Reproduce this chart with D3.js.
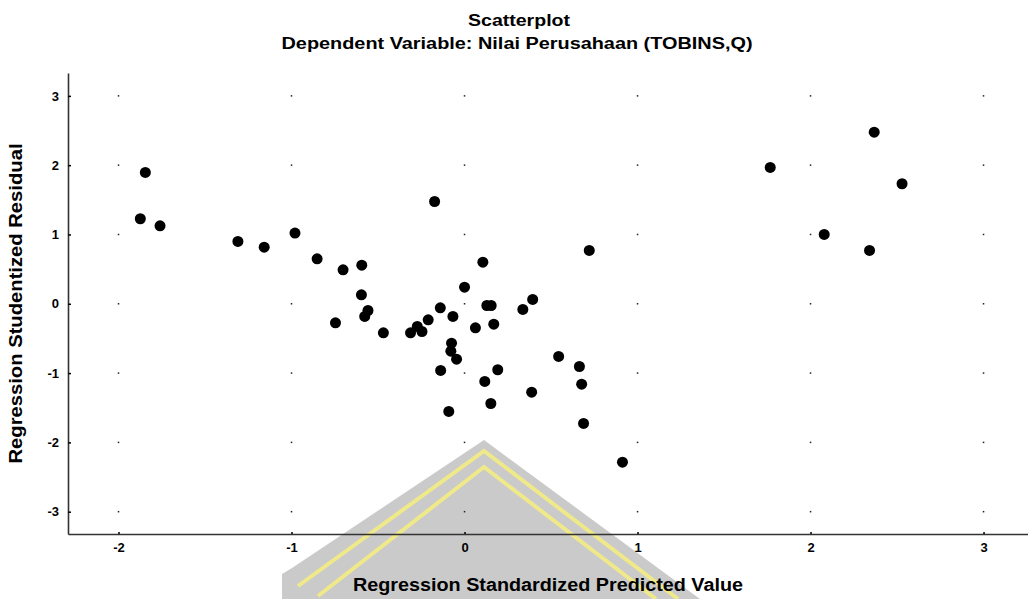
<!DOCTYPE html>
<html>
<head>
<meta charset="utf-8">
<script src="https://cdn.jsdelivr.net/npm/d3@7"></script>
<style>
  body{margin:0;background:#fff;}
  text{font-family:"Liberation Sans",Arial,sans-serif;font-weight:bold;fill:#000;}
</style>
</head>
<body>
<div id="chart"></div>
<script>
// standardized predicted value (x) and studentized residual (y)
var predicted = [-1.874,-1.845,-1.760,-1.310,-1.158,-0.980,-0.852,-0.746,-0.702,-0.596,
  -0.594,-0.577,-0.558,-0.469,-0.312,-0.273,-0.246,-0.210,-0.173,-0.140,
  -0.138,-0.091,-0.079,-0.075,-0.067,-0.046,0.000,0.063,0.106,0.117,
  0.129,0.152,0.154,0.169,0.192,0.337,0.388,0.394,0.544,0.664,
  0.677,0.688,0.721,0.913,1.767,2.079,2.341,2.368,2.529];
var residual = [1.227,1.895,1.125,0.899,0.817,1.020,0.649,-0.275,0.490,0.130,
  0.557,-0.183,-0.097,-0.419,-0.419,-0.328,-0.400,-0.231,1.476,-0.058,
  -0.962,-1.554,-0.684,-0.568,-0.183,-0.800,0.240,-0.347,0.600,-1.121,
  -0.025,-1.439,-0.025,-0.294,-0.952,-0.082,-1.275,0.062,-0.760,-0.905,
  -1.160,-1.727,0.769,-2.285,1.967,1.000,0.769,2.476,1.732];
var xTicks = [-2,-1,0,1,2,3];
var yTicks = [-3,-2,-1,0,1,2,3];

var title = "Scatterplot";
var subtitle = "Dependent Variable: Nilai Perusahaan (TOBINS,Q)";
var xTitle = "Regression Standardized Predicted Value";
var yTitle = "Regression Studentized Residual";

drawscatter();

function drawscatter(){
  var width=1028;
  var height=599;
  var left=68, right=1028, top=73, bottom=534;

  var svg = d3.select("#chart")
      .append("svg")
      .attr("width",width)
      .attr("height",height);

  var xScale = d3.scaleLinear()
      .domain([-2.292,3.257])
      .range([left,right]);

  var yScale = d3.scaleLinear()
      .domain([-3.322,3.330])
      .range([bottom,top]);

  // faint watermark at the bottom, behind everything
  var wm = svg.append("g");
  wm.append("path")
      .attr("d","M484,440 L700,599 L282,599 L282,574 L292,568 Z")
      .attr("fill","#cacaca");
  wm.append("path")
      .attr("d","M298,586 L484,451 L678,599")
      .attr("fill","none")
      .attr("stroke","#efe98a")
      .attr("stroke-width",4);
  wm.append("path")
      .attr("d","M318,596 L484,467 L656,599")
      .attr("fill","none")
      .attr("stroke","#efe98a")
      .attr("stroke-width",4);

  // dotted grid: one small dot at each tick crossing
  var grid = [];
  for(var i=0;i<xTicks.length;i++){
    for(var j=0;j<yTicks.length;j++){
      grid.push([xTicks[i],yTicks[j]]);
    }
  }
  svg.append("g")
      .selectAll("rect")
      .data(grid)
      .enter()
      .append("rect")
      .attr("x",function(d){return xScale(d[0])-0.75;})
      .attr("y",function(d){return yScale(d[1])-0.75;})
      .attr("width",1.5)
      .attr("height",1.5)
      .attr("fill","#222");

  var fmt = function(d){return String(d);};

  var xAxis = d3.axisBottom(xScale)
      .tickValues(xTicks)
      .tickSize(-2)
      .tickSizeOuter(0)
      .tickPadding(9)
      .tickFormat(fmt);

  var yAxis = d3.axisLeft(yScale)
      .tickValues(yTicks)
      .tickSize(-3)
      .tickSizeOuter(0)
      .tickPadding(9)
      .tickFormat(fmt);

  var gx = svg.append("g")
      .attr("transform","translate(0,"+bottom+")")
      .call(xAxis);
  var gy = svg.append("g")
      .attr("transform","translate("+left+",0)")
      .call(yAxis);

  [gx,gy].forEach(function(g){
    g.select(".domain").attr("stroke","#333").attr("stroke-width",1.6);
    g.selectAll(".tick line").attr("stroke","#000").attr("stroke-width",1.5);
    g.selectAll(".tick text")
      .attr("font-family","'Liberation Sans',Arial,sans-serif")
      .attr("font-weight","bold")
      .attr("font-size",13)
      .attr("fill","#000");
  });

  svg.append("g")
      .selectAll("circle")
      .data(predicted)
      .enter()
      .append("circle")
      .attr("cx",function(d){return xScale(d);})
      .attr("cy",function(d,i){return yScale(residual[i]);})
      .attr("r",5.5)
      .attr("fill","#000");

  svg.append("text")
      .attr("x",519)
      .attr("y",26)
      .attr("text-anchor","middle")
      .attr("font-size",16)
      .attr("textLength",102)
      .attr("lengthAdjust","spacingAndGlyphs")
      .text(title);

  svg.append("text")
      .attr("x",517)
      .attr("y",49)
      .attr("text-anchor","middle")
      .attr("font-size",16)
      .attr("textLength",471)
      .attr("lengthAdjust","spacingAndGlyphs")
      .text(subtitle);

  svg.append("text")
      .attr("x",(left+right)/2)
      .attr("y",591)
      .attr("text-anchor","middle")
      .attr("font-size",18)
      .attr("textLength",390)
      .attr("lengthAdjust","spacingAndGlyphs")
      .text(xTitle);

  svg.append("text")
      .attr("transform","translate(22,"+((top+bottom)/2)+") rotate(-90)")
      .attr("text-anchor","middle")
      .attr("font-size",18)
      .attr("textLength",320)
      .attr("lengthAdjust","spacingAndGlyphs")
      .text(yTitle);
}
</script>
</body>
</html>
